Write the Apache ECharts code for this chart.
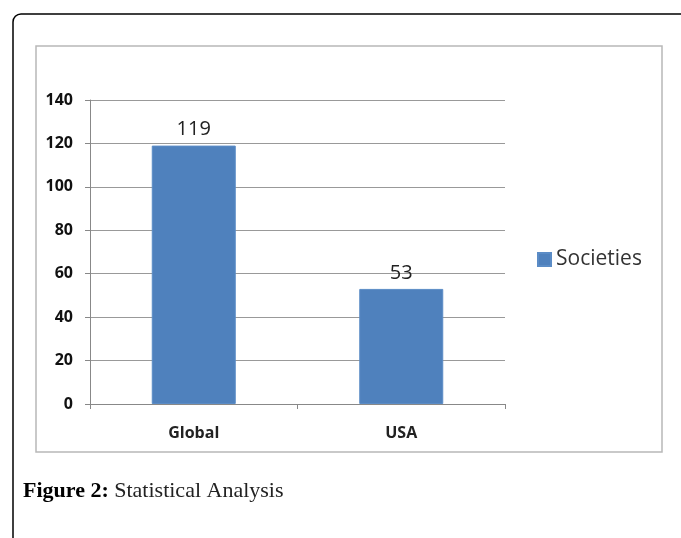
<!DOCTYPE html>
<html>
<head>
<meta charset="utf-8">
<script src="https://cdn.jsdelivr.net/npm/echarts@6/dist/echarts.min.js"></script>
<style>
  html, body { margin: 0; padding: 0; background: #fff; }
  #chart { width: 681px; height: 538px; }
</style>
</head>
<body>
<div id="chart"></div>
<script>
// data
var categories = ['Global', 'USA']
var societies = [119, 53]
var seriesName = 'Societies'

var chart = echarts.init(document.getElementById('chart'))

var option = {
  animation: false,
  backgroundColor: '#fff',
  graphic: [
    // outer rounded frame (runs off right and bottom edges)
    {
      type: 'rect',
      shape: { x: 13, y: 14, width: 700, height: 560, r: 8 },
      style: { fill: 'none', stroke: '#000', lineWidth: 1.5 },
      silent: true
    },
    // chart area box
    {
      type: 'rect',
      shape: { x: 36, y: 46, width: 626, height: 406 },
      style: { fill: 'none', stroke: '#b8b8b8', lineWidth: 1.5 },
      silent: true
    },
    {
      type: 'text',
      left: 23,
      top: 480,
      style: {
        text: '{b|Figure 2:} Statistical Analysis',
        font: '22px "Liberation Serif", serif',
        fill: '#222',
        rich: {
          b: { font: 'bold 22px "Liberation Serif", serif', fill: '#000' }
        }
      }
    }
  ],
  legend: {
    data: [seriesName],
    left: 532,
    top: 244,
    icon: 'rect',
    itemWidth: 13,
    itemHeight: 13,
    itemGap: 6,
    textStyle: { fontSize: 21, color: '#333', fontFamily: '"Open Sans", sans-serif' }
  },
  grid: { left: 90, right: 176, top: 100, bottom: 134 },
  xAxis: {
    type: 'category',
    data: categories,
    axisLine: { lineStyle: { color: '#888', width: 1 } },
    axisTick: { show: true, length: 5, lineStyle: { color: '#888' } },
    axisLabel: {
      margin: 21,
      fontSize: 16,
      fontWeight: 'bold',
      color: '#222',
      fontFamily: '"Open Sans", sans-serif'
    }
  },
  yAxis: {
    type: 'value',
    min: 0,
    max: 140,
    interval: 20,
    axisLine: { show: true, lineStyle: { color: '#888', width: 1 } },
    axisTick: { show: true, length: 5, lineStyle: { color: '#888' } },
    splitLine: { lineStyle: { color: '#999', width: 1 } },
    axisLabel: {
      margin: 17,
      fontSize: 16,
      fontWeight: 'bold',
      color: '#111',
      fontFamily: '"Open Sans", sans-serif'
    }
  },
  series: [
    {
      name: seriesName,
      type: 'bar',
      data: societies,
      barWidth: 84,
      itemStyle: { color: '#4f81bd', borderColor: '#5b8cc6', borderWidth: 1 },
      label: {
        show: true,
        position: 'top',
        distance: 6,
        fontSize: 20,
        color: '#222',
        fontFamily: '"Open Sans", sans-serif'
      }
    }
  ]
}

chart.setOption(option)
window.addEventListener('resize', () => {
  chart.resize()
})
</script>
</body>
</html>
